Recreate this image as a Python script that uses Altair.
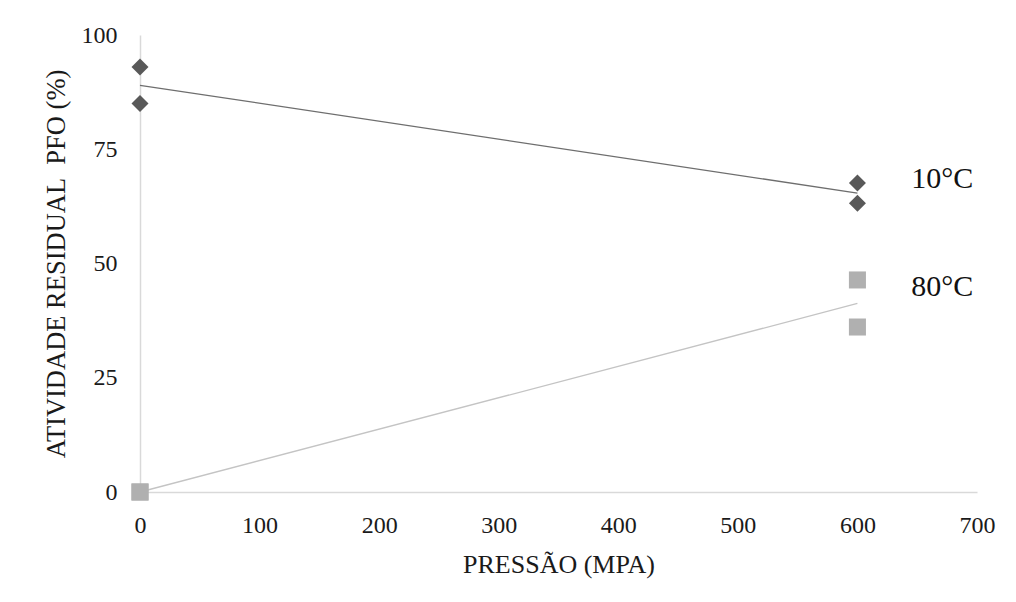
import altair as alt
import pandas as pd

# Data
pressure = [0, 0, 600, 600, 0, 0, 600, 600]
activity = [93, 85, 67.6, 63.2, 0, 0, 46.4, 36.1]
series = ["10°C", "10°C", "10°C", "10°C", "80°C", "80°C", "80°C", "80°C"]

label_text = ["10°C", "80°C"]
label_x = [645, 645]
label_y = [66.5, 42.9]

x_ticks = [0, 100, 200, 300, 400, 500, 600, 700]
y_ticks = [0, 25, 50, 75, 100]

df = pd.DataFrame({"pressure": pressure, "activity": activity, "series": series})
labels = pd.DataFrame({"text": label_text, "x": label_x, "y": label_y})

FONT = "Liberation Serif"

xscale = alt.Scale(domain=[0, 700], nice=False)
yscale = alt.Scale(domain=[0, 100], nice=False)

x_axis = alt.Axis(
    title="PRESSÃO (MPA)",
    values=x_ticks,
    labelPadding=21,
    titlePadding=14,
    titleFontSize=26,
)
y_axis = alt.Axis(
    title="ATIVIDADE RESIDUAL\u00a0 PFO (%)",
    values=y_ticks,
    labelPadding=23,
    titlePadding=11,
    titleFontSize=26.5,
)

lines = (
    alt.Chart(df)
    .transform_regression("pressure", "activity", groupby=["series"], extent=[0, 600])
    .mark_line(strokeWidth=1.3)
    .encode(
        x=alt.X("pressure:Q", scale=xscale, axis=x_axis),
        y=alt.Y("activity:Q", scale=yscale, axis=y_axis),
        color=alt.Color(
            "series:N",
            scale=alt.Scale(domain=["10°C", "80°C"], range=["#6e6e6e", "#c4c4c4"]),
            legend=None,
        ),
    )
)

points = (
    alt.Chart(df)
    .mark_point(filled=True, size=290, opacity=1)
    .encode(
        x=alt.X("pressure:Q", scale=xscale, axis=x_axis),
        y=alt.Y("activity:Q", scale=yscale, axis=y_axis),
        color=alt.Color(
            "series:N",
            scale=alt.Scale(domain=["10°C", "80°C"], range=["#595959", "#b0b0b0"]),
            legend=None,
        ),
        shape=alt.Shape(
            "series:N",
            scale=alt.Scale(domain=["10°C", "80°C"], range=["diamond", "square"]),
            legend=None,
        ),
    )
)

texts = (
    alt.Chart(labels)
    .mark_text(align="left", baseline="alphabetic", fontSize=30, font=FONT, color="#111111")
    .encode(
        x=alt.X("x:Q", scale=xscale, axis=x_axis),
        y=alt.Y("y:Q", scale=yscale, axis=y_axis),
        text="text:N",
    )
)

chart = (
    alt.layer(lines, points, texts)
    .resolve_scale(color="independent")
    .properties(
        width=837,
        height=457,
        padding={"left": 132, "top": 27, "right": 30, "bottom": 100},
        autosize=alt.AutoSizeParams(type="none"),
        background="white",
    )
    .configure_view(stroke=None)
    .configure_axis(
        labelFont=FONT,
        titleFont=FONT,
        labelFontSize=24,
        titleFontWeight="normal",
        labelColor="#1a1a1a",
        titleColor="#1a1a1a",
        grid=False,
        ticks=False,
        domain=True,
        domainColor="#d9d9d9",
        domainWidth=1.5,
        labelFlush=False,
        labelOverlap=False,
    )
)

chart.save("out.html", embed_options={"renderer": "svg", "actions": False})
